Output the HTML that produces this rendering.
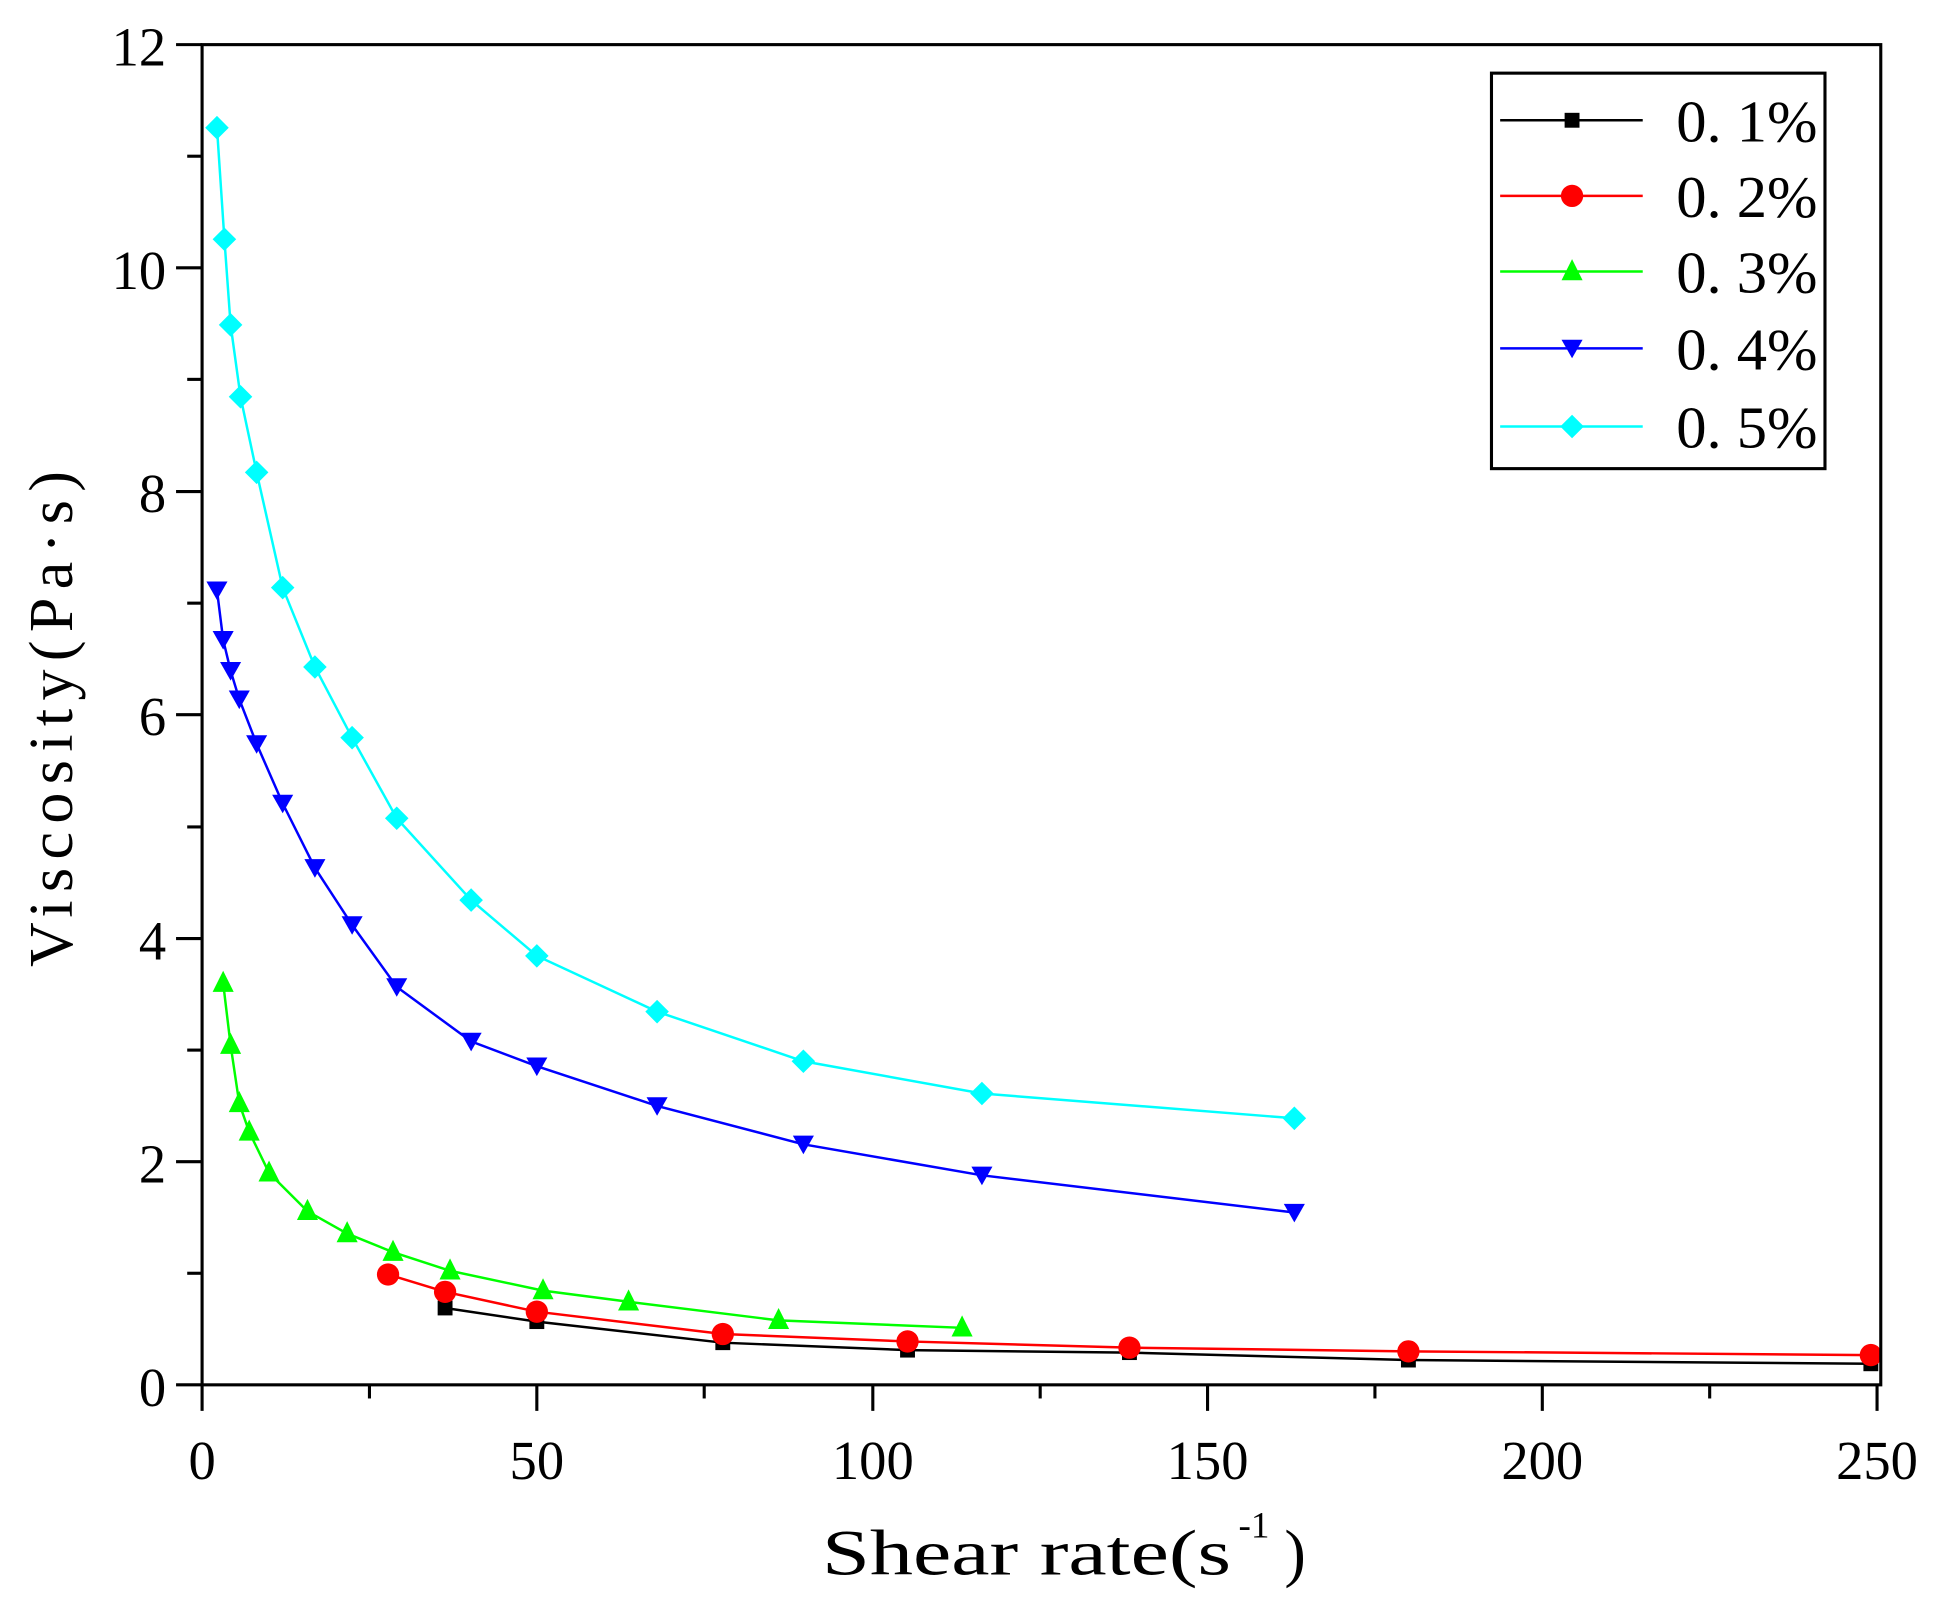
<!DOCTYPE html>
<html><head><style>html,body{margin:0;padding:0;background:#fff}svg{display:block}</style></head><body>
<svg width="1944" height="1608" viewBox="0 0 1568 1297" preserveAspectRatio="none" xmlns="http://www.w3.org/2000/svg" font-family="Liberation Serif, serif">
<rect width="1568" height="1297" fill="#fff"/>
<defs>
<rect id="sq" x="-6" y="-6" width="12" height="12" fill="#000"/>
<circle id="ci" r="9" fill="#f00"/>
<polygon id="tu" points="0,-10 8.5,7 -8.5,7" fill="#0f0"/>
<polygon id="td" points="0,8 8.5,-7 -8.5,-7" fill="#00f"/>
<polygon id="di" points="0,-9.5 9.5,0 0,9.5 -9.5,0" fill="#0ff"/>
</defs>
<g fill="none" stroke-width="2">
<polyline stroke="#000" points="359,1055 433,1066 583,1083 732,1089 911,1091 1136,1097 1509,1100"/>
<polyline stroke="#f00" points="313,1028 359,1042 433,1058 583,1076 732,1082 911,1087 1136,1090 1509,1093"/>
<polyline stroke="#0f0" points="180,793 186,843 193,890 201,913 217,946 248,977 280,995 317,1010 363,1025 438,1041 507,1050 628,1065 776,1071"/>
<polyline stroke="#00f" points="175,476 180,516 186,541 193,564 207,600 228,648 254,700 284,746 320,796 380,840 433,860 530,892 648,923 792,948 1044,978"/>
<polyline stroke="#0ff" points="175,103 181,193 186,262 194,320 207,381 228,474 254,538 284,595 320,660 380,726 433,771 530,816 648,856 792,882 1044,902"/>
</g>
<g>
<use href="#sq" x="359" y="1055"/><use href="#sq" x="433" y="1066"/><use href="#sq" x="583" y="1083"/><use href="#sq" x="732" y="1089"/><use href="#sq" x="911" y="1091"/><use href="#sq" x="1136" y="1097"/><use href="#sq" x="1509" y="1100"/>
<use href="#ci" x="313" y="1028"/><use href="#ci" x="359" y="1042"/><use href="#ci" x="433" y="1058"/><use href="#ci" x="583" y="1076"/><use href="#ci" x="732" y="1082"/><use href="#ci" x="911" y="1087"/><use href="#ci" x="1136" y="1090"/><use href="#ci" x="1509" y="1093"/>
<use href="#tu" x="180" y="793"/><use href="#tu" x="186" y="843"/><use href="#tu" x="193" y="890"/><use href="#tu" x="201" y="913"/><use href="#tu" x="217" y="946"/><use href="#tu" x="248" y="977"/><use href="#tu" x="280" y="995"/><use href="#tu" x="317" y="1010"/><use href="#tu" x="363" y="1025"/><use href="#tu" x="438" y="1041"/><use href="#tu" x="507" y="1050"/><use href="#tu" x="628" y="1065"/><use href="#tu" x="776" y="1071"/>
<use href="#td" x="175" y="476"/><use href="#td" x="180" y="516"/><use href="#td" x="186" y="541"/><use href="#td" x="193" y="564"/><use href="#td" x="207" y="600"/><use href="#td" x="228" y="648"/><use href="#td" x="254" y="700"/><use href="#td" x="284" y="746"/><use href="#td" x="320" y="796"/><use href="#td" x="380" y="840"/><use href="#td" x="433" y="860"/><use href="#td" x="530" y="892"/><use href="#td" x="648" y="923"/><use href="#td" x="792" y="948"/><use href="#td" x="1044" y="978"/>
<use href="#di" x="175" y="103"/><use href="#di" x="181" y="193"/><use href="#di" x="186" y="262"/><use href="#di" x="194" y="320"/><use href="#di" x="207" y="381"/><use href="#di" x="228" y="474"/><use href="#di" x="254" y="538"/><use href="#di" x="284" y="595"/><use href="#di" x="320" y="660"/><use href="#di" x="380" y="726"/><use href="#di" x="433" y="771"/><use href="#di" x="530" y="816"/><use href="#di" x="648" y="856"/><use href="#di" x="792" y="882"/><use href="#di" x="1044" y="902"/>
</g>
<rect x="163" y="36" width="1354" height="1081" fill="none" stroke="#000" stroke-width="2.5"/>
<g stroke="#000" stroke-width="2.5">
<line x1="142" y1="36" x2="163" y2="36"/><line x1="142" y1="216" x2="163" y2="216"/><line x1="142" y1="396.5" x2="163" y2="396.5"/><line x1="142" y1="576.5" x2="163" y2="576.5"/><line x1="142" y1="757" x2="163" y2="757"/><line x1="142" y1="937" x2="163" y2="937"/><line x1="142" y1="1117" x2="163" y2="1117"/>
<line x1="151" y1="126" x2="163" y2="126"/><line x1="151" y1="306" x2="163" y2="306"/><line x1="151" y1="486.5" x2="163" y2="486.5"/><line x1="151" y1="667" x2="163" y2="667"/><line x1="151" y1="847" x2="163" y2="847"/><line x1="151" y1="1027" x2="163" y2="1027"/>
<line x1="163" y1="1117" x2="163" y2="1138"/><line x1="433" y1="1117" x2="433" y2="1138"/><line x1="704" y1="1117" x2="704" y2="1138"/><line x1="974" y1="1117" x2="974" y2="1138"/><line x1="1244" y1="1117" x2="1244" y2="1138"/><line x1="1514" y1="1117" x2="1514" y2="1138"/>
<line x1="298" y1="1117" x2="298" y2="1128"/><line x1="568" y1="1117" x2="568" y2="1128"/><line x1="839" y1="1117" x2="839" y2="1128"/><line x1="1109" y1="1117" x2="1109" y2="1128"/><line x1="1379" y1="1117" x2="1379" y2="1128"/>
</g>
<g font-size="44" fill="#000" text-anchor="end">
<text x="134" y="53">12</text><text x="134" y="233">10</text><text x="134" y="413">8</text><text x="134" y="593">6</text><text x="134" y="774">4</text><text x="134" y="954">2</text><text x="134" y="1134">0</text>
</g>
<g font-size="44" fill="#000" text-anchor="middle">
<text x="163" y="1193">0</text><text x="433" y="1193">50</text><text x="704" y="1193">100</text><text x="974" y="1193">150</text><text x="1244" y="1193">200</text><text x="1514" y="1193">250</text>
</g>
<text x="663" y="1270" font-size="52" textLength="330" lengthAdjust="spacingAndGlyphs">Shear rate(s</text>
<text x="999" y="1240" font-size="30">-1</text>
<text x="1036" y="1270" font-size="52">)</text>
<text transform="translate(58,580) rotate(-90)" text-anchor="middle" font-size="50" textLength="400" lengthAdjust="spacing">Viscosity(Pa·s)</text>
<rect x="1203" y="59" width="269" height="319" fill="#fff" stroke="#000" stroke-width="2.5"/>
<g stroke-width="2">
<line x1="1210" y1="97" x2="1325" y2="97" stroke="#000"/><line x1="1210" y1="158" x2="1325" y2="158" stroke="#f00"/><line x1="1210" y1="219" x2="1325" y2="219" stroke="#0f0"/><line x1="1210" y1="281" x2="1325" y2="281" stroke="#00f"/><line x1="1210" y1="344" x2="1325" y2="344" stroke="#0ff"/>
</g>
<use href="#sq" x="1268" y="97"/><use href="#ci" x="1268" y="158"/><use href="#tu" x="1268" y="219"/><use href="#td" x="1268" y="281"/><use href="#di" x="1268" y="344"/>
<g font-size="48" fill="#000">
<text x="1352" y="114" textLength="114" lengthAdjust="spacingAndGlyphs">0. 1%</text>
<text x="1352" y="175" textLength="114" lengthAdjust="spacingAndGlyphs">0. 2%</text>
<text x="1352" y="236" textLength="114" lengthAdjust="spacingAndGlyphs">0. 3%</text>
<text x="1352" y="298" textLength="114" lengthAdjust="spacingAndGlyphs">0. 4%</text>
<text x="1352" y="361" textLength="114" lengthAdjust="spacingAndGlyphs">0. 5%</text>
</g>
</svg>
</body></html>
